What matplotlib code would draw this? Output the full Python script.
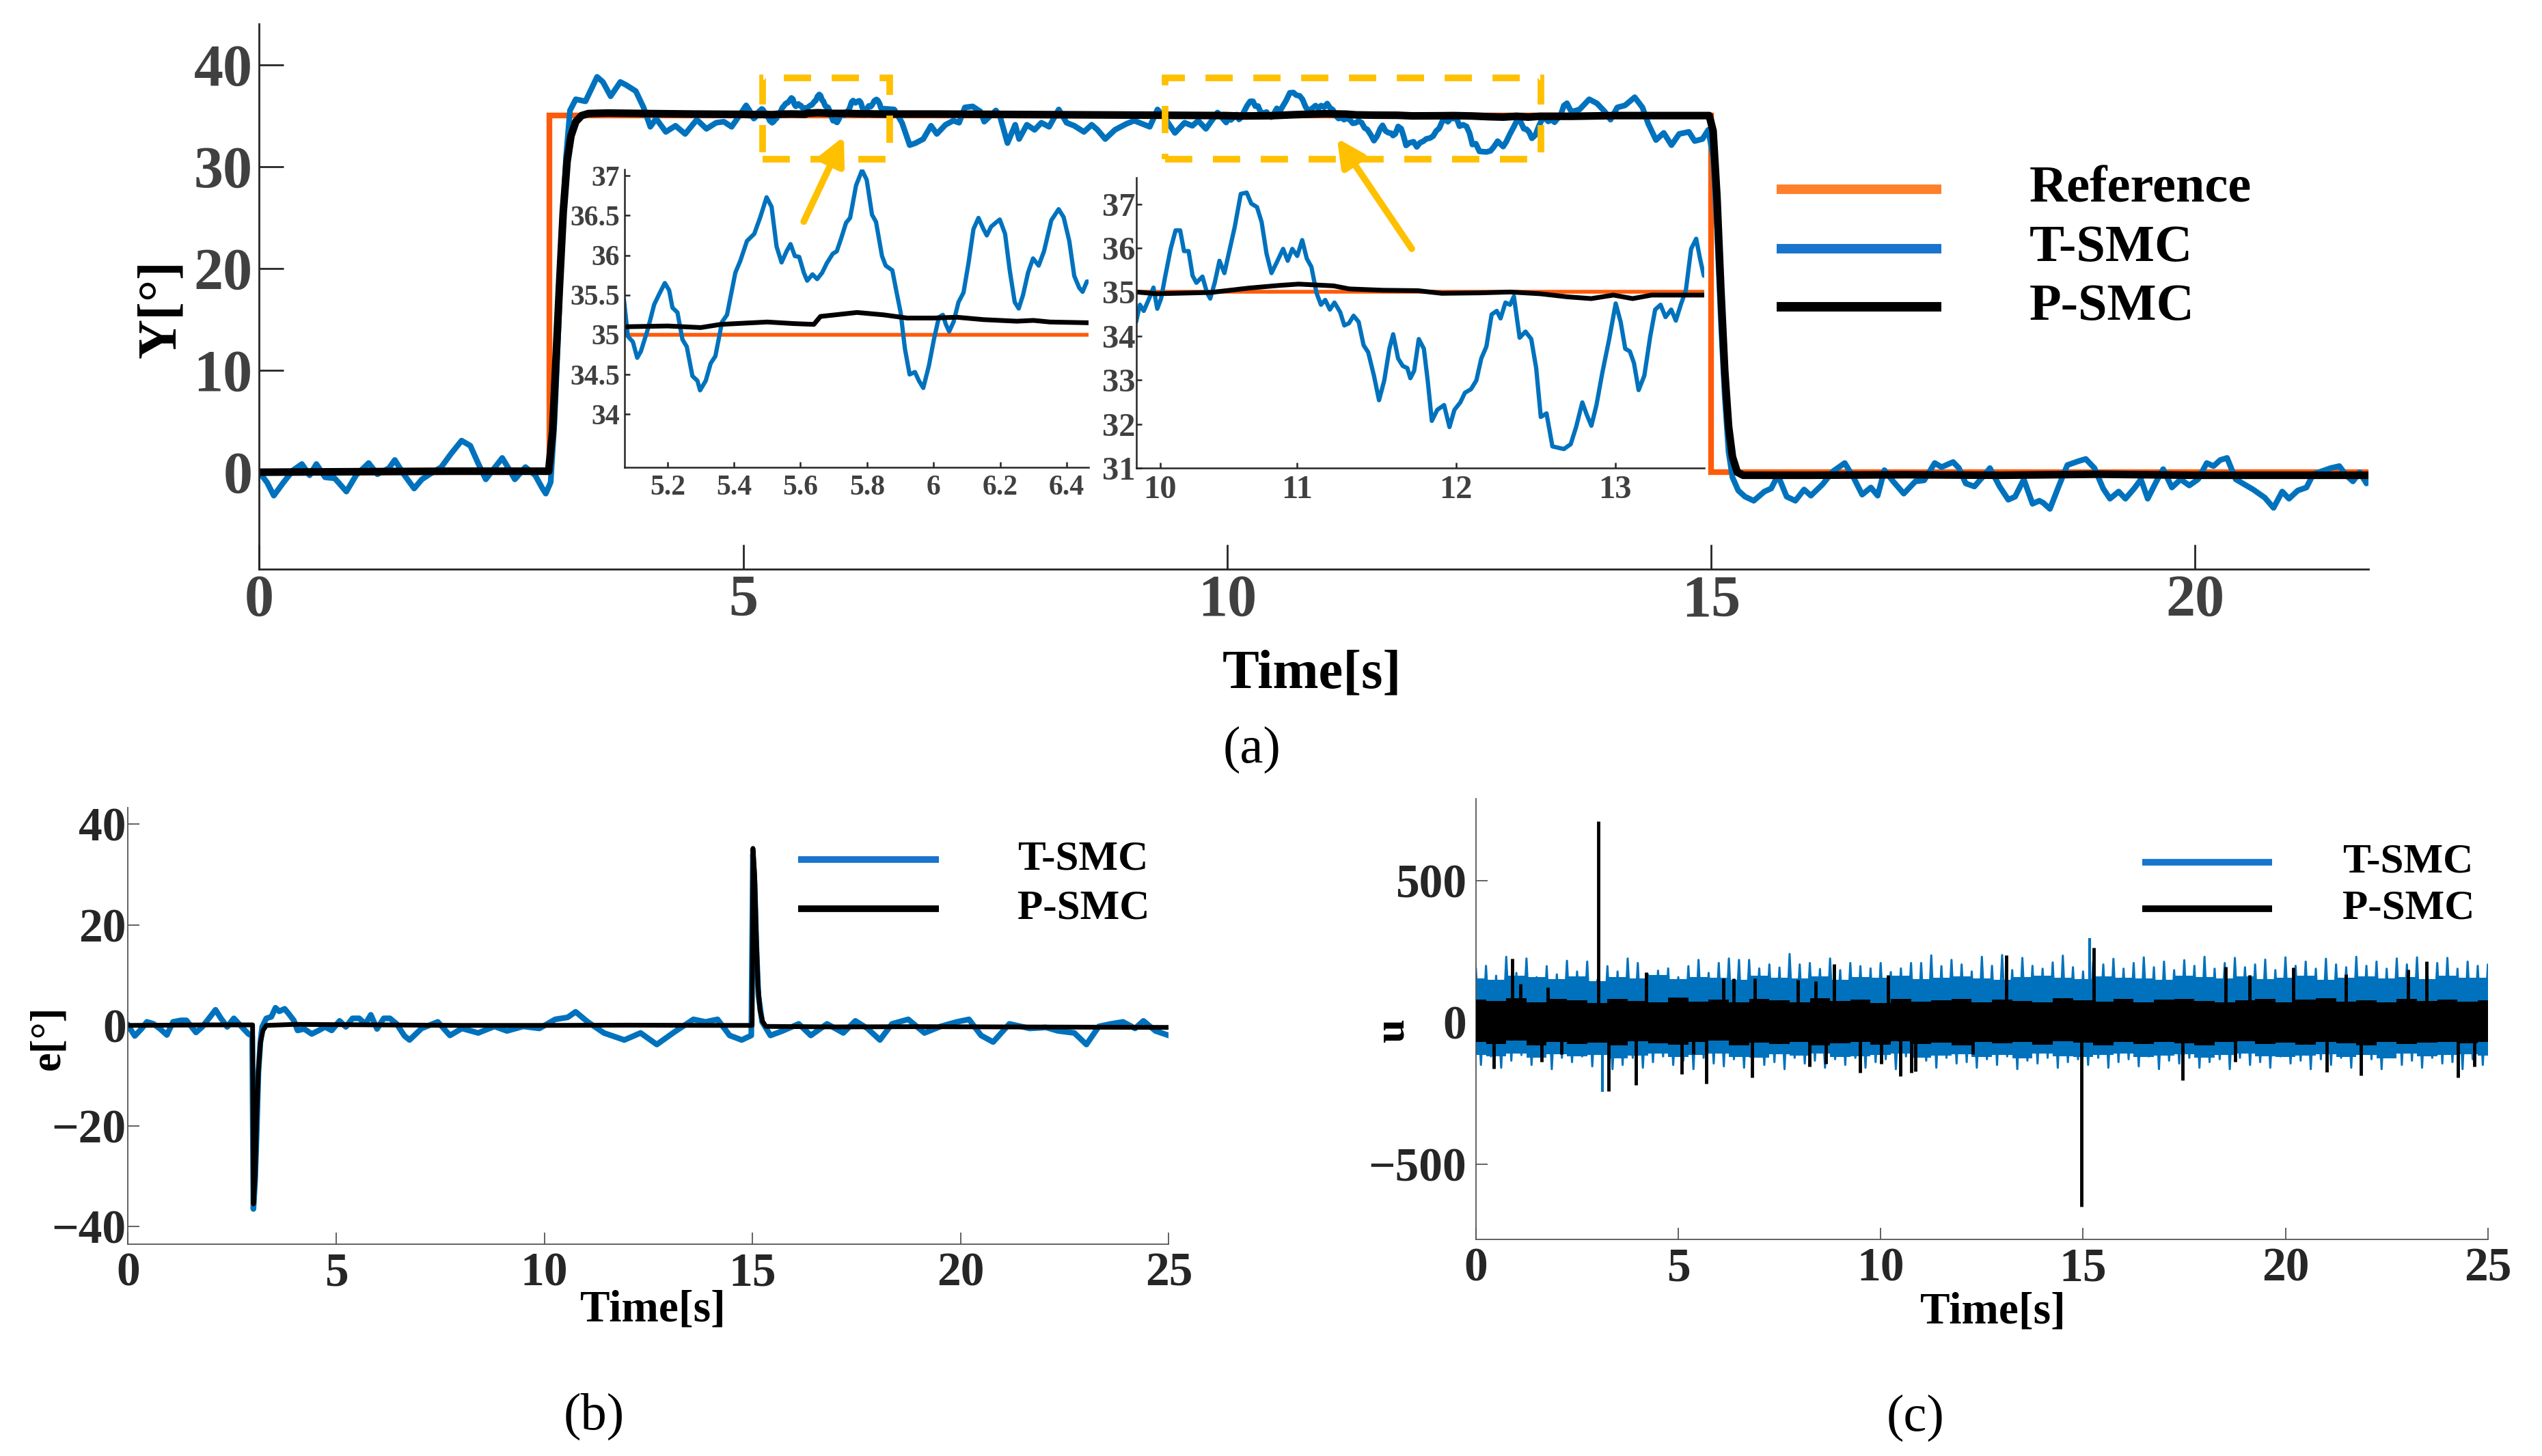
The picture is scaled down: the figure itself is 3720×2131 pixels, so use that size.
import numpy as np
import matplotlib
matplotlib.use("Agg")
import matplotlib.pyplot as plt
from matplotlib.lines import Line2D
from matplotlib.patches import Rectangle

plt.rcParams['font.family'] = ['Liberation Serif', 'DejaVu Serif']
plt.rcParams['font.weight'] = 'bold'

# ---------------- data ----------------
# (a) output angle Y [deg]
ref_t = [0, 3, 3, 15, 15, 25]
ref_y = [0, 0, 35, 35, 0, 0]

tsmc_pts = [
    (0.00, 0.0), (0.08, -1.0), (0.15, -2.3), (0.25, -1.0), (0.35, 0.2), (0.44, 0.8), (0.52, -0.3),
    (0.59, 0.8), (0.68, -0.5), (0.78, -0.6), (0.90, -1.9), (1.00, -0.3), (1.13, 0.9), (1.22, -0.2),
    (1.34, 0.4), (1.40, 1.2), (1.50, -0.3), (1.60, -1.6), (1.68, -0.7), (1.76, -0.2), (1.88, 0.5),
    (1.98, 1.8), (2.09, 3.1), (2.18, 2.6), (2.26, 0.9), (2.34, -0.7), (2.42, 0.3), (2.51, 1.4),
    (2.58, 0.3), (2.64, -0.7), (2.75, 0.5), (2.85, -0.3), (2.92, -1.5), (2.96, -2.1), (3.01, -1.0),
    (3.05, 5.0), (3.09, 14.0), (3.13, 24.0), (3.17, 31.0), (3.21, 35.5), (3.27, 36.6), (3.37, 36.4),
    (3.49, 38.8), (3.55, 38.3), (3.63, 36.9), (3.73, 38.3), (3.79, 38.0), (3.89, 37.4), (3.97, 35.8),
    (4.04, 33.9), (4.10, 34.7), (4.20, 33.4), (4.30, 34.0), (4.40, 33.2), (4.52, 34.6), (4.62, 33.7),
    (4.72, 34.3), (4.80, 34.4), (4.88, 33.9), (4.96, 35.0), (5.03, 36.0),
    # first zoom window
    (5.069, 35.44), (5.081, 34.98), (5.096, 34.91), (5.109, 34.71), (5.120, 34.79), (5.141, 35.07),
    (5.160, 35.38), (5.175, 35.51), (5.192, 35.65), (5.205, 35.56), (5.215, 35.34), (5.230, 35.28),
    (5.245, 34.94), (5.258, 34.85), (5.275, 34.48), (5.290, 34.42), (5.298, 34.30), (5.315, 34.42),
    (5.330, 34.64), (5.344, 34.73), (5.364, 35.16), (5.379, 35.25), (5.404, 35.78), (5.419, 35.93),
    (5.439, 36.18), (5.461, 36.27), (5.479, 36.48), (5.498, 36.73), (5.513, 36.61), (5.528, 36.11),
    (5.543, 35.91), (5.558, 36.05), (5.570, 36.14), (5.583, 35.99), (5.596, 35.98), (5.610, 35.78),
    (5.620, 35.68), (5.636, 35.76), (5.650, 35.70), (5.665, 35.78), (5.679, 35.90), (5.697, 36.02),
    (5.709, 36.05), (5.722, 36.21), (5.737, 36.41), (5.749, 36.47), (5.767, 36.88), (5.785, 37.07),
    (5.799, 36.95), (5.815, 36.51), (5.827, 36.42), (5.845, 35.99), (5.856, 35.87), (5.876, 35.81),
    (5.889, 35.53), (5.901, 35.28), (5.914, 34.82), (5.928, 34.50), (5.944, 34.53), (5.956, 34.42),
    (5.969, 34.33), (5.986, 34.61), (6.001, 34.94), (6.016, 35.22), (6.028, 35.25), (6.037, 35.13),
    (6.047, 35.04), (6.060, 35.16), (6.075, 35.41), (6.090, 35.53), (6.105, 35.90), (6.120, 36.33),
    (6.135, 36.47), (6.150, 36.33), (6.160, 36.25), (6.173, 36.36), (6.187, 36.41), (6.199, 36.45),
    (6.215, 36.27), (6.229, 35.81), (6.244, 35.41), (6.256, 35.33), (6.269, 35.50), (6.284, 35.78),
    (6.299, 35.96), (6.316, 35.87), (6.332, 36.05), (6.354, 36.44), (6.376, 36.58), (6.391, 36.48),
    (6.408, 36.18), (6.423, 35.74), (6.438, 35.59), (6.448, 35.54), (6.461, 35.67),
    (6.56, 35.6), (6.64, 34.3), (6.72, 32.1), (6.78, 32.3), (6.86, 32.7), (6.94, 34.0), (7.00, 33.2),
    (7.09, 34.1), (7.17, 34.5), (7.23, 34.3), (7.29, 35.8), (7.37, 35.9), (7.45, 35.4), (7.49, 34.4),
    (7.61, 35.5), (7.65, 35.0), (7.73, 32.3), (7.81, 34.1), (7.85, 32.7), (7.93, 34.1), (8.01, 33.6),
    (8.08, 34.3), (8.16, 33.9), (8.26, 35.6), (8.34, 34.3), (8.42, 34.0), (8.52, 33.4), (8.60, 34.1),
    (8.66, 33.6), (8.74, 32.7), (8.84, 33.6), (8.96, 34.2), (9.04, 34.5), (9.12, 34.2), (9.20, 33.9),
    (9.28, 35.6), (9.36, 34.7), (9.46, 33.3), (9.56, 34.3), (9.64, 34.0), (9.70, 34.5), (9.78, 33.7),
    (9.90, 35.3),
    # second zoom window
    (9.989, 34.32), (10.013, 34.71), (10.037, 34.57), (10.073, 34.87), (10.098, 35.10), (10.122, 34.62),
    (10.146, 34.85), (10.170, 35.32), (10.206, 35.98), (10.237, 36.40), (10.266, 36.40), (10.290, 35.93),
    (10.319, 35.93), (10.344, 35.37), (10.368, 35.21), (10.406, 35.35), (10.435, 34.98), (10.455, 34.85),
    (10.483, 35.21), (10.513, 35.71), (10.544, 35.43), (10.575, 35.93), (10.609, 36.48), (10.647, 37.23),
    (10.684, 37.26), (10.713, 37.01), (10.749, 36.93), (10.778, 36.59), (10.809, 35.87), (10.840, 35.43),
    (10.874, 35.68), (10.913, 35.98), (10.942, 35.71), (10.971, 35.98), (11.002, 35.82), (11.033, 36.18),
    (11.062, 35.76), (11.091, 35.57), (11.123, 34.98), (11.151, 34.71), (11.178, 34.82), (11.207, 34.60),
    (11.236, 34.76), (11.272, 34.54), (11.298, 34.24), (11.327, 34.29), (11.356, 34.46), (11.388, 34.32),
    (11.419, 33.79), (11.448, 33.63), (11.484, 33.10), (11.516, 32.54), (11.549, 32.99), (11.581, 33.71),
    (11.605, 34.04), (11.636, 33.49), (11.665, 33.32), (11.694, 33.27), (11.713, 33.04), (11.737, 33.21),
    (11.766, 33.93), (11.798, 33.71), (11.822, 32.99), (11.848, 32.07), (11.882, 32.32), (11.925, 32.43),
    (11.959, 31.93), (11.990, 32.32), (12.027, 32.49), (12.056, 32.71), (12.094, 32.79), (12.128, 32.99),
    (12.159, 33.49), (12.191, 33.76), (12.224, 34.49), (12.256, 34.57), (12.280, 34.40), (12.311, 34.76),
    (12.340, 34.71), (12.364, 34.90), (12.400, 33.96), (12.437, 34.10), (12.473, 33.93), (12.504, 33.27),
    (12.533, 32.16), (12.569, 32.24), (12.606, 31.49), (12.642, 31.46), (12.678, 31.43), (12.721, 31.54),
    (12.755, 31.93), (12.794, 32.49), (12.822, 32.21), (12.851, 31.96), (12.883, 32.43), (12.919, 33.15),
    (12.963, 33.93), (13.004, 34.74), (13.035, 34.32), (13.064, 33.71), (13.093, 33.65), (13.119, 33.38),
    (13.148, 32.77), (13.184, 33.10), (13.221, 33.99), (13.252, 34.60), (13.286, 34.71), (13.317, 34.43),
    (13.353, 34.60), (13.382, 34.35), (13.413, 34.71), (13.445, 35.04), (13.478, 35.98), (13.510, 36.21),
    (13.534, 35.76), (13.558, 35.37),
    (13.64, 35.6), (13.74, 36.6), (13.82, 36.2), (13.90, 35.4), (13.96, 34.6), (14.03, 35.8), (14.11, 36.0),
    (14.21, 36.8), (14.29, 35.8), (14.35, 34.2), (14.43, 32.6), (14.51, 33.3), (14.59, 32.1), (14.67, 33.2),
    (14.77, 33.4), (14.83, 32.5), (14.91, 32.7), (14.97, 33.6), (15.02, 31.0), (15.06, 24.0), (15.10, 15.0),
    (15.14, 7.5), (15.18, 2.0), (15.22, -0.5), (15.28, -1.8), (15.35, -2.4), (15.44, -2.8), (15.55, -1.9),
    (15.62, -1.6), (15.69, -0.3), (15.78, -2.4), (15.87, -2.8), (15.96, -1.7), (16.03, -2.3), (16.15, -1.2),
    (16.26, 0.1), (16.38, 0.9), (16.47, -0.5), (16.56, -2.2), (16.65, -1.5), (16.72, -2.3), (16.79, 0.2),
    (16.88, -0.9), (16.99, -2.1), (17.11, -0.9), (17.20, -0.8), (17.31, 0.9), (17.38, 0.5), (17.50, 1.0),
    (17.56, 0.4), (17.63, -1.1), (17.72, -1.4), (17.82, -0.3), (17.88, 0.4), (17.98, -1.4), (18.07, -2.7),
    (18.14, -2.4), (18.23, -0.7), (18.32, -3.1), (18.39, -2.8), (18.43, -3.0), (18.50, -3.6), (18.59, -1.4),
    (18.68, 0.7), (18.80, 1.1), (18.87, 1.3), (18.96, 0.4), (19.05, -1.6), (19.12, -2.6), (19.21, -1.9),
    (19.28, -2.6), (19.37, -1.6), (19.44, -0.7), (19.51, -2.6), (19.60, -0.9), (19.67, 0.3), (19.76, -1.5),
    (19.85, -0.7), (19.94, -1.3), (20.03, -0.7), (20.12, 0.9), (20.19, 0.6), (20.26, 1.2), (20.33, 1.4),
    (20.42, -0.7), (20.51, -1.2), (20.60, -1.7), (20.72, -2.5), (20.81, -3.5), (20.90, -1.9), (20.97, -2.6),
    (21.06, -1.8), (21.15, -1.5), (21.22, -0.2), (21.31, 0.1), (21.40, 0.4), (21.49, 0.6), (21.56, -0.3),
    (21.63, -0.9), (21.70, 0.0), (21.77, -1.1), (21.86, 0.0),
]
tsmc_t, tsmc_y = map(list, zip(*tsmc_pts))

psmc_pts = [
    (0.0, 0.0), (1.0, 0.05), (2.0, 0.1), (2.99, 0.1), (3.03, 4.0), (3.06, 10.0), (3.10, 18.0),
    (3.14, 25.5), (3.18, 30.5), (3.22, 33.0), (3.27, 34.4), (3.33, 35.0), (3.40, 35.2), (3.60, 35.25),
    (4.0, 35.2), (4.5, 35.15), (5.0, 35.12), (5.07, 35.10), (5.20, 35.11), (5.30, 35.09), (5.36, 35.13),
    (5.50, 35.16), (5.58, 35.14), (5.64, 35.13), (5.66, 35.23), (5.77, 35.28), (5.85, 35.25),
    (5.92, 35.21), (6.00, 35.21), (6.07, 35.22), (6.15, 35.19), (6.25, 35.17), (6.30, 35.18),
    (6.35, 35.16), (6.47, 35.15), (7.0, 35.15), (8.0, 35.1), (9.0, 35.05), (9.6, 35.02),
    (9.99, 35.00), (10.12, 34.96), (10.46, 34.99), (10.70, 35.09), (10.89, 35.15), (11.01, 35.18),
    (11.23, 35.14), (11.33, 35.07), (11.54, 35.04), (11.76, 35.03), (11.91, 34.97), (12.15, 34.98),
    (12.34, 35.00), (12.53, 34.96), (12.70, 34.89), (12.85, 34.85), (12.99, 34.93), (13.11, 34.85),
    (13.23, 34.93), (13.56, 34.93), (14.0, 35.0), (14.5, 35.0), (14.98, 35.0), (15.02, 33.5),
    (15.06, 27.0), (15.10, 18.0), (15.14, 10.0), (15.18, 4.5), (15.22, 1.5), (15.27, 0.0),
    (15.33, -0.3), (16.0, -0.3), (17.0, -0.25), (18.0, -0.3), (19.0, -0.2), (20.0, -0.3),
    (21.0, -0.3), (22.0, -0.3), (25.0, -0.3),
]
psmc_t, psmc_y = map(list, zip(*psmc_pts))

# (b) tracking error e [deg]
te_pts = [
    (0.00, 0.0), (0.16, -2.1), (0.32, -0.7), (0.45, 0.7), (0.61, 0.3), (0.77, -0.7), (0.93, -1.9),
    (1.08, 0.7), (1.27, 1.0), (1.40, 1.0), (1.63, -1.4), (1.78, -0.3), (1.97, 1.7), (2.10, 3.1),
    (2.23, 1.4), (2.38, -0.3), (2.54, 1.4), (2.73, -0.3), (2.89, -1.7), (2.98, -2.1), (3.01, -36.5),
    (3.05, -31.0), (3.09, -21.0), (3.13, -9.4), (3.18, -3.0), (3.22, -0.3), (3.32, 1.4), (3.44, 1.7),
    (3.54, 3.5), (3.63, 2.8), (3.76, 3.3), (3.85, 2.4), (3.98, 1.0), (4.07, -1.0), (4.23, -0.7),
    (4.41, -1.7), (4.58, -1.0), (4.73, -0.3), (4.89, -1.0), (5.08, 0.9), (5.23, -0.3), (5.39, 1.4),
    (5.55, 1.4), (5.70, 0.3), (5.83, 2.1), (5.98, -0.7), (6.14, 1.4), (6.29, 1.4), (6.45, 0.3),
    (6.64, -2.1), (6.76, -2.9), (7.05, -0.6), (7.44, 0.7), (7.73, -2.0), (8.02, -0.6), (8.41, -1.5),
    (8.80, -0.2), (9.10, -1.1), (9.49, -0.2), (9.88, -0.6), (10.26, 1.2), (10.56, 1.6), (10.75, 2.7),
    (11.04, 0.7), (11.43, -1.5), (11.92, -2.9), (12.31, -1.5), (12.70, -3.8), (13.09, -1.5),
    (13.58, 1.2), (13.87, 0.7), (14.16, 1.2), (14.45, -2.0), (14.74, -2.9), (14.97, -2.0),
    (15.01, 34.0), (15.05, 28.0), (15.09, 16.0), (15.14, 6.0), (15.23, 0.7), (15.43, -2.0),
    (15.72, -1.1), (16.11, 0.3), (16.40, -2.0), (16.79, 0.3), (17.18, -1.5), (17.47, 0.9),
    (17.76, -0.6), (18.06, -2.9), (18.35, 0.3), (18.74, 1.2), (19.13, -1.5), (19.52, -0.2),
    (19.91, 0.7), (20.20, 1.2), (20.49, -2.0), (20.78, -3.3), (21.17, 0.3), (21.66, -0.6),
    (22.05, -0.4), (22.34, -1.1), (22.73, -1.5), (23.02, -3.8), (23.32, -0.2), (23.61, 0.3),
    (23.90, 0.7), (24.19, -0.6), (24.39, 0.9), (24.68, -1.1), (25.00, -2.0),
]
te_t, te_v = map(list, zip(*te_pts))

pe_pts = [
    (0.0, 0.0), (1.0, 0.05), (2.0, 0.1), (2.99, 0.1), (3.01, -35.5), (3.05, -30.0), (3.09, -18.0),
    (3.13, -9.0), (3.18, -3.5), (3.24, -1.0), (3.32, 0.0), (4.0, 0.2), (6.0, 0.1), (8.0, 0.0),
    (10.0, 0.0), (12.0, 0.05), (14.0, 0.0), (14.99, 0.0), (15.01, 35.2), (15.05, 30.0),
    (15.09, 18.0), (15.13, 8.0), (15.18, 3.0), (15.24, 0.8), (15.32, -0.2), (17.0, -0.3),
    (19.0, -0.25), (21.0, -0.3), (23.0, -0.35), (25.0, -0.4),
]
pe_t, pe_v = map(list, zip(*pe_pts))

# (c) control input u : dense band envelopes (every 0.5 s) and swing tips (every 0.25 s)
u_base_t = np.arange(0, 25.001, 0.5)
blue_base_hi = [155, 150, 165, 160, 153, 163, 145, 160, 155, 167,
                153, 161, 157, 151, 165, 159, 155, 163, 150, 161,
                157, 165, 153, 159, 163, 155, 151, 161, 165, 157,
                153, 163, 159, 155, 151, 165, 160, 155, 163, 153,
                159, 165, 151, 157, 163, 155, 161, 153, 165, 159, 157]
blue_base_lo = [-115, -120, -110, -125, -113, -119, -115, -127, -117, -111,
                -123, -115, -109, -121, -125, -113, -117, -111, -123, -119,
                -115, -110, -125, -117, -113, -121, -115, -127, -111, -119,
                -123, -115, -109, -121, -117, -113, -125, -115, -111, -119,
                -123, -117, -113, -121, -115, -127, -111, -119, -115, -113, -117]
blue_up = [190, 200, 165, 232, 175, 226, 160, 199, 170, 218, 180, 215,
           150, 199, 180, 226, 210, 170, 183, 191, 160, 199, 221, 175,
           210, 226, 221, 221, 191, 205, 194, 242, 205, 210, 189, 226,
           185, 210, 199, 191, 210, 178, 191, 210, 210, 237, 199, 221,
           205, 180, 232, 200, 238, 185, 228, 200, 190, 212, 236, 195,
           180, 215, 205, 225, 190, 210, 230, 195, 215, 185, 220, 200,
           232, 190, 210, 228, 195, 205, 222, 185, 230, 200, 215, 190,
           225, 205, 195, 232, 200, 215, 190, 226, 205, 230, 195, 210,
           228, 190, 215, 200, 205]
blue_dn = [-150, -120, -160, -135, -115, -150, -130, -165, -125, -140, -120, -155,
           -130, -165, -150, -125, -160, -140, -120, -150, -135, -165, -125, -145,
           -155, -130, -160, -120, -150, -140, -165, -125, -145, -135, -160, -130,
           -150, -125, -160, -140, -130, -165, -120, -150, -135, -160, -125, -145,
           -140, -160, -130, -150, -120, -165, -135, -145, -125, -160, -140, -130,
           -150, -125, -160, -140, -130, -155, -120, -165, -135, -145, -125, -160,
           -140, -130, -165, -125, -150, -140, -160, -120, -145, -135, -165, -130,
           -150, -125, -160, -140, -130, -165, -120, -150, -135, -160, -125, -145,
           -140, -165, -130, -150, -135]
blue_spk_t = [3.12, 15.16]
blue_spk_v = [-245, 297]
black_base_hi = [80, 75, 85, 70, 82, 78, 68, 84, 76, 72,
                 88, 74, 80, 70, 84, 78, 72, 86, 76, 80,
                 68, 82, 74, 78, 84, 70, 80, 76, 72, 86,
                 78, 74, 82, 70, 80, 84, 76, 72, 78, 82,
                 70, 80, 86, 74, 78, 72, 84, 76, 80, 74, 78]
black_base_lo = [-70, -75, -65, -80, -68, -76, -72, -82, -66, -74,
                 -78, -70, -64, -80, -72, -76, -68, -82, -74, -70,
                 -78, -66, -76, -72, -80, -68, -74, -70, -78, -66,
                 -72, -80, -70, -76, -68, -74, -82, -70, -66, -76,
                 -72, -78, -68, -74, -80, -70, -76, -72, -68, -74, -70]
black_spk_t = [0.45, 0.90, 1.10, 1.63, 1.78, 2.11, 3.02, 3.28, 3.96, 4.21, 5.08, 5.37, 5.69,
               6.11, 6.37, 6.82, 6.89, 7.95, 8.24, 8.39, 8.65, 8.85, 9.49, 10.01, 10.18, 10.48,
               10.76, 10.86, 12.27, 13.11, 14.96, 15.26, 17.46, 18.53, 18.76, 19.12, 20.2,
               21.02, 21.5, 21.86, 23.03, 23.48, 24.26, 24.66]
black_spk_v = [-162, 226, 137, -140, 124, -113, 711, -242, -221, 178, -183, -113, -216,
               156, 156, -194, 156, 151, -156, 145, -145, 207, -178, -145, 167, -189,
               -178, -172, -113, 238, -651, 265, -203, 197, -140, 167, 194,
               -175, 170, -187, 186, 217, -195, -156]

# the blue control signal swings from each upper tip to the following lower tip
u_zig_t = np.arange(2 * len(blue_up)) * 0.125
u_zig_v = np.ravel(np.column_stack([blue_up, blue_dn]))

# ---------------- styles ----------------
C_REF = '#FF5A0A'
C_T = '#0072BD'
C_P = '#000000'
C_Y = '#FFC000'
C_REF_LEG = '#FF7F2A'
C_T_LEG = '#1874CD'
TICK_A = '#404040'
TICK_B = '#262626'

fig = plt.figure(figsize=(37.2, 21.31), dpi=100)


def style_axes(ax, spine_c, spine_w):
    for s in ('top', 'right'):
        ax.spines[s].set_visible(False)
    for s in ('left', 'bottom'):
        ax.spines[s].set_color(spine_c)
        ax.spines[s].set_linewidth(spine_w)


# ---------------- (a) main ----------------
ax = fig.add_axes([0.1020, 0.6092, 0.8297, 0.3744])
ax.plot(ref_t, ref_y, color=C_REF, lw=6, solid_joinstyle='miter')
ax.plot(tsmc_t, tsmc_y, color=C_T, lw=6)
ax.plot(psmc_t, psmc_y, color=C_P, lw=8)
ax.set_xlim(0, 21.79)
ax.set_ylim(-9.5, 44)
ax.set_xticks([0, 5, 10, 15, 20])
ax.set_yticks([0, 10, 20, 30, 40])
style_axes(ax, '#262626', 2)
ax.tick_params(direction='in', length=26, width=2, color='#262626',
               labelcolor=TICK_A, labelsize=62)
ax.tick_params(axis='x', pad=6)
ax.tick_params(axis='y', pad=7)

# zoom boxes and arrows
for x0, x1 in [(5.20, 6.51), (9.36, 13.24)]:
    ax.add_patch(Rectangle((x0, 30.7), x1 - x0, 8.0, fill=False, ec=C_Y, lw=7,
                           ls=(0, (4.1, 3.1)), zorder=5, clip_on=False))
arrow_kw = dict(arrowstyle='-|>,head_length=0.6,head_width=0.3', lw=7, color=C_Y,
                shrinkA=0, shrinkB=0, mutation_scale=40)
ax.annotate('', xy=(6.04, 32.95), xytext=(5.625, 24.6), arrowprops=arrow_kw, zorder=6)
ax.annotate('', xy=(11.135, 32.77), xytext=(11.907, 21.93), arrowprops=arrow_kw, zorder=6)

# insets
ins1 = fig.add_axes([0.2457, 0.6790, 0.1824, 0.2046], facecolor='none')
ins2 = fig.add_axes([0.4470, 0.6786, 0.2234, 0.1994], facecolor='none')
for ins in (ins1, ins2):
    ins.plot(ref_t, ref_y, color=C_REF, lw=4)
    ins.plot(tsmc_t, tsmc_y, color=C_T, lw=4.5)
    ins.plot(psmc_t, psmc_y, color=C_P, lw=5)
    style_axes(ins, '#262626', 1.8)
ins1.set_xlim(5.071, 6.465)
ins1.set_ylim(33.33, 37.08)
ins1.set_xticks([5.2, 5.4, 5.6, 5.8, 6.0, 6.2, 6.4])
ins1.set_xticklabels(['5.2', '5.4', '5.6', '5.8', '6', '6.2', '6.4'])
ins1.set_yticks([34, 34.5, 35, 35.5, 36, 36.5, 37])
ins1.set_yticklabels(['34', '34.5', '35', '35.5', '36', '36.5', '37'])
ins1.tick_params(direction='in', length=6, width=1.8, color='#262626',
                 labelcolor=TICK_A, labelsize=30)
ins1.tick_params(axis='x', pad=8)
ins1.tick_params(axis='y', pad=5)

ins2.set_xlim(9.99, 13.56)
ins2.set_ylim(31, 37.6)
ins2.set_xticks([10.14, 11, 12, 13])
ins2.set_xticklabels(['10', '11', '12', '13'])
ins2.set_yticks([31, 32, 33, 34, 35, 36, 37])
ins2.tick_params(direction='in', length=6, width=1.8, color='#262626',
                 labelcolor=TICK_A, labelsize=35)
ins2.tick_params(axis='x', pad=7)
ins2.tick_params(axis='y', pad=1)

# ---------------- (b) error ----------------
axb = fig.add_axes([0.0504, 0.1455, 0.4094, 0.2998])
axb.plot(te_t, te_v, color=C_T, lw=6)
axb.plot(pe_t, pe_v, color=C_P, lw=5)
axb.set_xlim(0, 25)
axb.set_ylim(-43.5, 43.3)
axb.set_xticks([0, 5, 10, 15, 20, 25])
axb.set_yticks([-40, -20, 0, 20, 40])
style_axes(axb, '#555555', 1.3)
axb.tick_params(direction='in', length=12, width=1.3, color='#555555',
                labelcolor=TICK_B, labelsize=50)
axb.tick_params(axis='x', pad=8)
axb.tick_params(axis='y', pad=2)

# ---------------- (c) control input ----------------
axc = fig.add_axes([0.5806, 0.1488, 0.3981, 0.3026])
axc.fill_between(u_base_t, blue_base_lo, blue_base_hi, step='mid', color=C_T, lw=0, zorder=1)
axc.plot(u_zig_t, u_zig_v, color=C_T, lw=2.2, zorder=1.5)
axc.vlines(blue_spk_t, 0, blue_spk_v, color=C_T, lw=3, zorder=1.6)
axc.fill_between(u_base_t, black_base_lo, black_base_hi, step='mid', color=C_P, lw=0, zorder=3)
axc.vlines(black_spk_t, 0, black_spk_v, color=C_P, lw=3.5, zorder=3.5)
axc.set_xlim(0, 25)
axc.set_ylim(-766, 790)
axc.set_xticks([0, 5, 10, 15, 20, 25])
axc.set_yticks([-500, 0, 500])
style_axes(axc, '#555555', 1.3)
axc.tick_params(direction='in', length=12, width=1.3, color='#555555',
                labelcolor=TICK_B, labelsize=50)
axc.tick_params(axis='x', pad=8)
axc.tick_params(axis='y', pad=10)

# ---------------- legends (drawn by hand in figure coords) ----------------
def legend_row(x0, x1, xt, y, color, lw, label, size):
    fig.add_artist(Line2D([x0, x1], [y, y], transform=fig.transFigure, color=color,
                          lw=lw, solid_capstyle='butt'))
    fig.text(xt, y, label, fontsize=size, fontweight='bold', va='center', ha='left')


legend_row(0.6989, 0.7637, 0.7984, 0.8700, C_REF_LEG, 10, 'Reference', 55)
legend_row(0.6989, 0.7637, 0.7984, 0.8292, C_T_LEG, 10, 'T-SMC', 55)
legend_row(0.6989, 0.7637, 0.7984, 0.7893, C_P, 10, 'P-SMC', 55)
legend_row(0.3140, 0.3694, 0.4003, 0.4097, C_T_LEG, 7, 'T-SMC', 44)
legend_row(0.3140, 0.3694, 0.4003, 0.3759, C_P, 7, 'P-SMC', 44)
legend_row(0.8427, 0.8938, 0.9215, 0.4078, C_T_LEG, 7, 'T-SMC', 44)
legend_row(0.8427, 0.8938, 0.9215, 0.3759, C_P, 7, 'P-SMC', 44)

# ---------------- axis labels and captions ----------------
fig.text(0.0637, 0.7879, 'Y[°]', fontsize=58, fontweight='bold', rotation=90,
         ha='center', va='center')
fig.text(0.5161, 0.5368, 'Time[s]', fontsize=58, fontweight='bold', ha='center', va='center')
fig.text(0.4925, 0.4852, '(a)', fontsize=55, fontweight='normal', ha='center', va='center')
fig.text(0.0191, 0.2872, 'e[°]', fontsize=45, fontweight='bold', rotation=90,
         ha='center', va='center')
fig.text(0.2567, 0.1004, 'Time[s]', fontsize=47, fontweight='bold', ha='center', va='center')
fig.text(0.2336, 0.0272, '(b)', fontsize=55, fontweight='normal', ha='center', va='center')
fig.text(0.5481, 0.2924, 'u', fontsize=45, fontweight='bold', rotation=90,
         ha='center', va='center')
fig.text(0.7839, 0.0990, 'Time[s]', fontsize=47, fontweight='bold', ha='center', va='center')
fig.text(0.7535, 0.0263, '(c)', fontsize=55, fontweight='normal', ha='center', va='center')

fig.savefig('out.png', dpi=100)
